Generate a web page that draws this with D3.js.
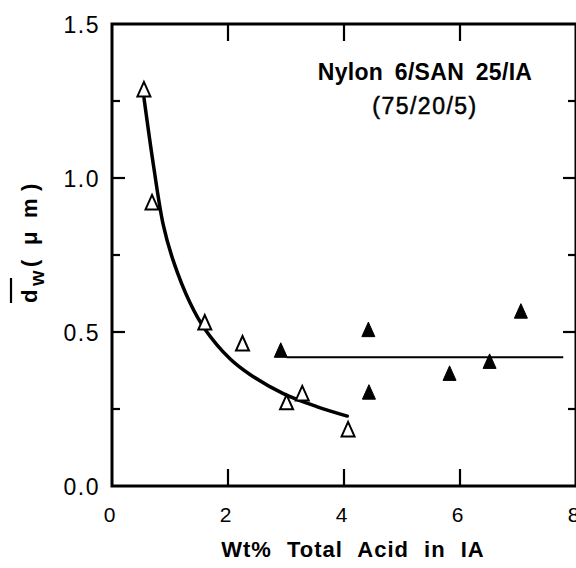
<!DOCTYPE html>
<html>
<head>
<meta charset="utf-8">
<script src="https://cdn.jsdelivr.net/npm/d3@7/dist/d3.min.js"></script>
<style>
  html, body { margin: 0; padding: 0; background: #fff; }
  svg { display: block; font-family: "Liberation Sans", Arial, Helvetica, sans-serif; }
</style>
</head>
<body>
<svg id="chart" width="576" height="568"></svg>
<script>
// Weight-average particle diameter vs. total acid content of the IA additive
const openX = [0.55, 0.69, 1.60, 2.25, 3.01, 3.28, 4.07];
const openY = [1.286, 0.919, 0.529, 0.461, 0.270, 0.299, 0.182];

const filledX = [2.91, 4.42, 4.43, 5.82, 6.51, 7.05];
const filledY = [0.439, 0.506, 0.303, 0.364, 0.403, 0.566];

// hand-drawn trend through the open symbols
const curveX = [0.552, 0.72, 0.884, 1.057, 1.345, 1.603, 2.034, 2.379, 2.953, 3.529, 4.057];
const curveY = [1.259, 1.035, 0.848, 0.731, 0.595, 0.509, 0.413, 0.362, 0.300, 0.258, 0.227];

// plateau level for the filled symbols
const plateauX = [3.01, 7.78];
const plateauY = [0.418, 0.418];

const xTicks = [0, 2, 4, 6, 8];
const yTicks = [0.0, 0.5, 1.0, 1.5];
const yMinorTicks = [0.25, 0.75, 1.25];

const svg = d3.select("#chart");
const plotL = 112, plotR = 576, plotT = 24, plotB = 486;

const x = d3.scaleLinear().domain([0, 8]).range([plotL, plotR]);
const y = d3.scaleLinear().domain([0, 1.5]).range([plotB, plotT]);

// frame
svg.append("rect")
  .attr("x", plotL).attr("y", plotT)
  .attr("width", plotR - plotL).attr("height", plotB - plotT)
  .attr("fill", "none").attr("stroke", "#000").attr("stroke-width", 3);

// x ticks (inward, top and bottom)
const xInner = xTicks.filter(d => d > 0 && d < 8);
svg.append("g").selectAll("line").data(xInner).join("line")
  .attr("x1", d => x(d)).attr("x2", d => x(d))
  .attr("y1", plotB).attr("y2", plotB - 17)
  .attr("stroke", "#000").attr("stroke-width", 2.2);
svg.append("g").selectAll("line").data(xInner).join("line")
  .attr("x1", d => x(d)).attr("x2", d => x(d))
  .attr("y1", plotT).attr("y2", plotT + 17)
  .attr("stroke", "#000").attr("stroke-width", 2.2);

// y ticks (inward, left and right)
const yInnerMajor = yTicks.filter(d => d > 0 && d < 1.5);
function yTickSet(vals, len) {
  svg.append("g").selectAll("line").data(vals).join("line")
    .attr("x1", plotL).attr("x2", plotL + len)
    .attr("y1", d => y(d)).attr("y2", d => y(d))
    .attr("stroke", "#000").attr("stroke-width", 2.2);
  svg.append("g").selectAll("line").data(vals).join("line")
    .attr("x1", plotR).attr("x2", plotR - len)
    .attr("y1", d => y(d)).attr("y2", d => y(d))
    .attr("stroke", "#000").attr("stroke-width", 2.2);
}
yTickSet(yInnerMajor, 13);
yTickSet(yMinorTicks, 8);

// tick labels
svg.append("g").selectAll("text").data(xTicks).join("text")
  .attr("x", d => x(d) - 2.5).attr("y", 522)
  .attr("text-anchor", "middle")
  .attr("font-size", 21)
  .text(d => d);

svg.append("g").selectAll("text").data(yTicks).join("text")
  .attr("x", 100).attr("y", d => y(d) + 1)
  .attr("dominant-baseline", "central")
  .attr("text-anchor", "end")
  .attr("font-size", 23)
  .attr("letter-spacing", 1.5)
  .text(d => d.toFixed(1));

// x axis title
svg.append("text")
  .attr("x", 353).attr("y", 557)
  .attr("text-anchor", "middle")
  .attr("font-size", 22).attr("font-weight", "bold")
  .attr("letter-spacing", 1)
  .attr("word-spacing", 8)
  .text("Wt% Total Acid in IA");

// y axis title: d̄w ( μm ), rotated; pieces placed along the baseline
const yt = svg.append("g").attr("transform", "translate(37,303) rotate(-90)");
const yPieces = [
  { t: "d", p: 0, dy: 0, fs: 22 },
  { t: "w", p: 17, dy: 7, fs: 20 },
  { t: "(", p: 36, dy: 0, fs: 22 },
  { t: "μ", p: 58, dy: 0, fs: 22 },
  { t: "m", p: 85, dy: 0, fs: 22 },
  { t: ")", p: 112, dy: 0, fs: 22 }
];
yt.selectAll("text").data(yPieces).join("text")
  .attr("x", d => d.p).attr("y", d => d.dy)
  .attr("font-size", d => d.fs).attr("font-weight", "bold")
  .text(d => d.t);
yt.append("line")
  .attr("x1", 0).attr("x2", 25)
  .attr("y1", -26).attr("y2", -26)
  .attr("stroke", "#000").attr("stroke-width", 2.2);

// annotation
svg.append("text")
  .attr("x", 425).attr("y", 80)
  .attr("text-anchor", "middle")
  .attr("font-size", 23).attr("font-weight", "bold")
  .attr("letter-spacing", 0.3)
  .attr("word-spacing", 5)
  .text("Nylon 6/SAN 25/IA");
svg.append("text")
  .attr("x", 425).attr("y", 114)
  .attr("text-anchor", "middle")
  .attr("font-size", 23)
  .attr("letter-spacing", 1.5)
  .attr("stroke", "#000").attr("stroke-width", 0.5)
  .text("(75/20/5)");

// trend curve
const curvePts = curveX.map((v, i) => [v, curveY[i]]);
svg.append("path")
  .datum(curvePts)
  .attr("d", d3.line().x(d => x(d[0])).y(d => y(d[1])).curve(d3.curveCatmullRom.alpha(0.5)))
  .attr("fill", "none").attr("stroke", "#000").attr("stroke-width", 3.5)
  .attr("stroke-linecap", "round");

// plateau line
const platPts = plateauX.map((v, i) => [v, plateauY[i]]);
svg.append("path")
  .datum(platPts)
  .attr("d", d3.line().x(d => x(d[0])).y(d => y(d[1])))
  .attr("fill", "none").attr("stroke", "#000").attr("stroke-width", 2);

// triangle markers
const tri = "M0,-8 L6.5,6.5 L-6.5,6.5 Z";
svg.append("g").selectAll("path").data(openX.map((v, i) => [v, openY[i]])).join("path")
  .attr("transform", d => `translate(${x(d[0])},${y(d[1])})`)
  .attr("d", tri)
  .attr("fill", "#fff").attr("stroke", "#000").attr("stroke-width", 2)
  .attr("stroke-linejoin", "miter");
svg.append("g").selectAll("path").data(filledX.map((v, i) => [v, filledY[i]])).join("path")
  .attr("transform", d => `translate(${x(d[0])},${y(d[1])})`)
  .attr("d", tri)
  .attr("fill", "#000").attr("stroke", "#000").attr("stroke-width", 1);
</script>
</body>
</html>
